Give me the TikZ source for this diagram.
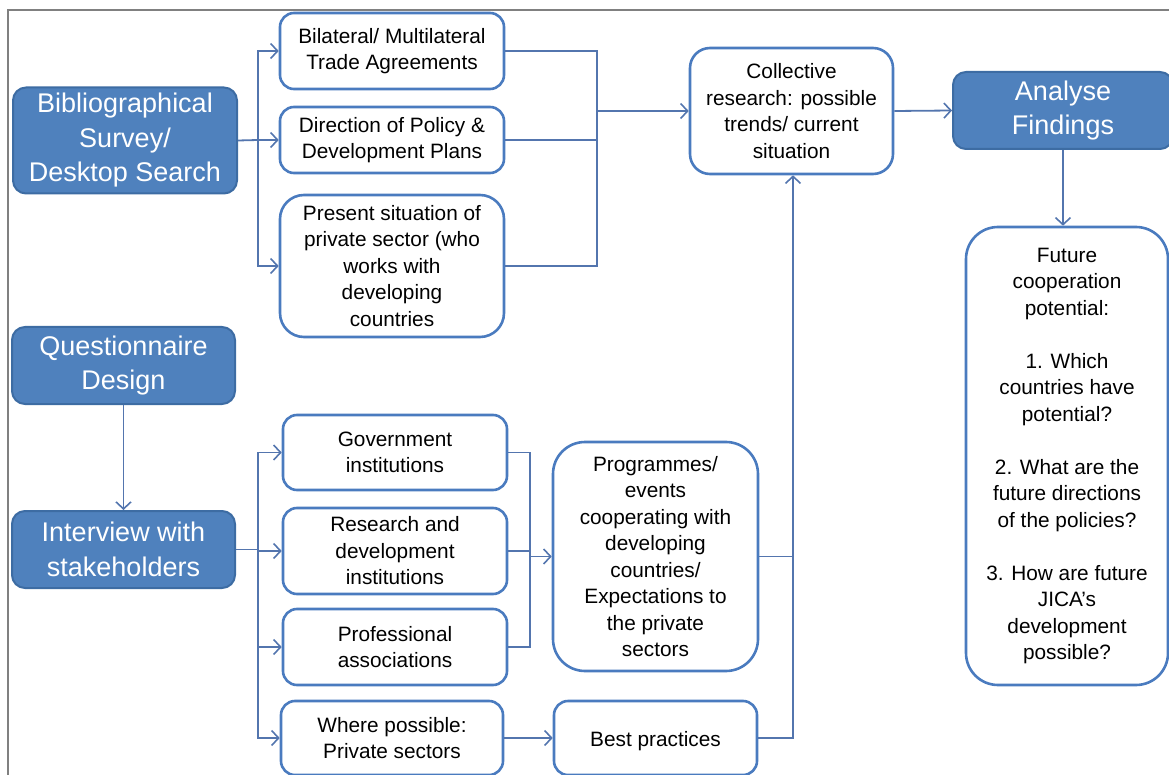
\documentclass[tikz,border=0pt]{standalone}
\usepackage{fontspec}
\setmainfont{Liberation Sans}
\usetikzlibrary{arrows.meta}
\definecolor{boxblue}{HTML}{4F81BD}
\definecolor{boxedge}{HTML}{3D6CA3}
\definecolor{wedge}{HTML}{4A7BBF}
\definecolor{conncol}{HTML}{5375AE}
\definecolor{framecol}{HTML}{808080}
\tikzset{
  wbox/.style={draw=wedge, line width=2.6pt, fill=white, rounded corners=14pt,
    align=center, inner sep=0pt, font=\fontsize{20.8}{26.5}\selectfont, text=black,
    execute at begin node={\rule{0pt}{21pt}}},
  bbox/.style={draw=boxedge, line width=2pt, fill=boxblue, rounded corners=13pt,
    align=center, inner sep=0pt, font=\fontsize{27}{34.5}\selectfont, text=white,
    execute at begin node={\rule{0pt}{32pt}}},
  conn/.style={draw=conncol, line width=1.8pt},
  arr/.style={conn, -{Straight Barb[length=7pt,width=15pt,line width=1.6pt]}},
}
\begin{document}
\begin{tikzpicture}[x=1pt,y=-1pt]
\useasboundingbox (0,0) rectangle (1169,775);
\draw[framecol, line width=2pt] (8,775) -- (8,10) -- (1169,10);

% left blue boxes
\node[bbox, minimum width=224pt, minimum height=106pt] (bib) at (125,140.5) {Bibliographical\\Survey/\\Desktop Search};
\node[bbox, minimum width=223pt, minimum height=77pt] (ques) at (123.5,365.5) {Questionnaire\\Design};
\node[bbox, minimum width=223pt, minimum height=77pt] (int) at (123.5,549.5) {Interview with\\stakeholders};
\node[bbox, minimum width=220pt, minimum height=77pt] (anal) at (1063,110.5) {Analyse\\Findings};

% upper white boxes
\node[wbox, minimum width=224pt, minimum height=76pt] (bil) at (392,51) {Bilateral/ Multilateral\\Trade Agreements};
\node[wbox, minimum width=224pt, minimum height=66pt] (dir) at (392,140) {Direction of Policy \&\\Development Plans};
\node[wbox, minimum width=224pt, minimum height=142pt, rounded corners=24pt] (pres) at (392,266) {Present situation of\\private sector (who\\works with\\developing\\countries};
\node[wbox, minimum width=203pt, minimum height=126pt, rounded corners=20pt] (coll) at (791.5,111) {Collective\\research: possible\\trends/ current\\situation};
\node[wbox, minimum width=202pt, minimum height=458pt, rounded corners=32pt] (fut) at (1067,456) {Future\\cooperation\\potential:\\[26.5pt]1. Which\\countries have\\potential?\\[26.5pt]2. What are the\\future directions\\of the policies?\\[26.5pt]3. How are future\\JICA's\\development\\possible?};

% lower white boxes
\node[wbox, minimum width=224pt, minimum height=75pt] (gov) at (395,452.5) {Government\\institutions};
\node[wbox, minimum width=224pt, minimum height=86pt] (res) at (395,551) {Research and\\development\\institutions};
\node[wbox, minimum width=224pt, minimum height=76pt] (prof) at (395,647) {Professional\\associations};
\node[wbox, minimum width=222pt, minimum height=74pt] (where) at (392,738) {Where possible:\\Private sectors};
\node[wbox, minimum width=205pt, minimum height=229pt, rounded corners=32pt] (prog) at (655.5,556.5) {Programmes/\\events\\cooperating with\\developing\\countries/\\Expectations to\\the private\\sectors};
\node[wbox, minimum width=203pt, minimum height=74pt] (best) at (655.5,738) {Best practices};

% connectors top
\coordinate (bj) at (258,140);
\draw[conn] (bib.east) -- (bj);
\draw[arr] (bj) |- (bil.west);
\draw[arr] (bj) -- (dir.west);
\draw[arr] (bj) |- (pres.west);
\coordinate (m1) at (597,111);
\draw[conn] (bil.east) -| (m1);
\draw[conn] (dir.east) -| (m1);
\draw[conn] (pres.east) -| (m1);
\draw[arr] (m1) -- (coll.west);
\draw[arr] (coll.east) -- (anal.west);
\draw[arr] (anal.south) -- (anal.south |- fut.north);

% connectors bottom
\draw[arr] (ques.south) -- (int.north);
\coordinate (ij) at (258,549.5);
\draw[conn] (int.east) -- (ij);
\draw[arr] (ij) |- (gov.west);
\draw[arr] (ij) |- (res.west);
\draw[arr] (ij) |- (prof.west);
\draw[arr] (ij) |- (where.west);
\coordinate (m2) at (530,556.5);
\draw[conn] (gov.east) -| (m2);
\draw[conn] (res.east) -| (m2);
\draw[conn] (prof.east) -| (m2);
\draw[arr] (m2) -- (prog.west);
\draw[arr] (where.east) -- (best.west);
\coordinate (m3) at (793,556.5);
\draw[conn] (prog.east) -- (m3);
\draw[conn] (best.east) -| (m3);
\draw[arr] (m3) -- (m3 |- coll.south);
\end{tikzpicture}
\end{document}
